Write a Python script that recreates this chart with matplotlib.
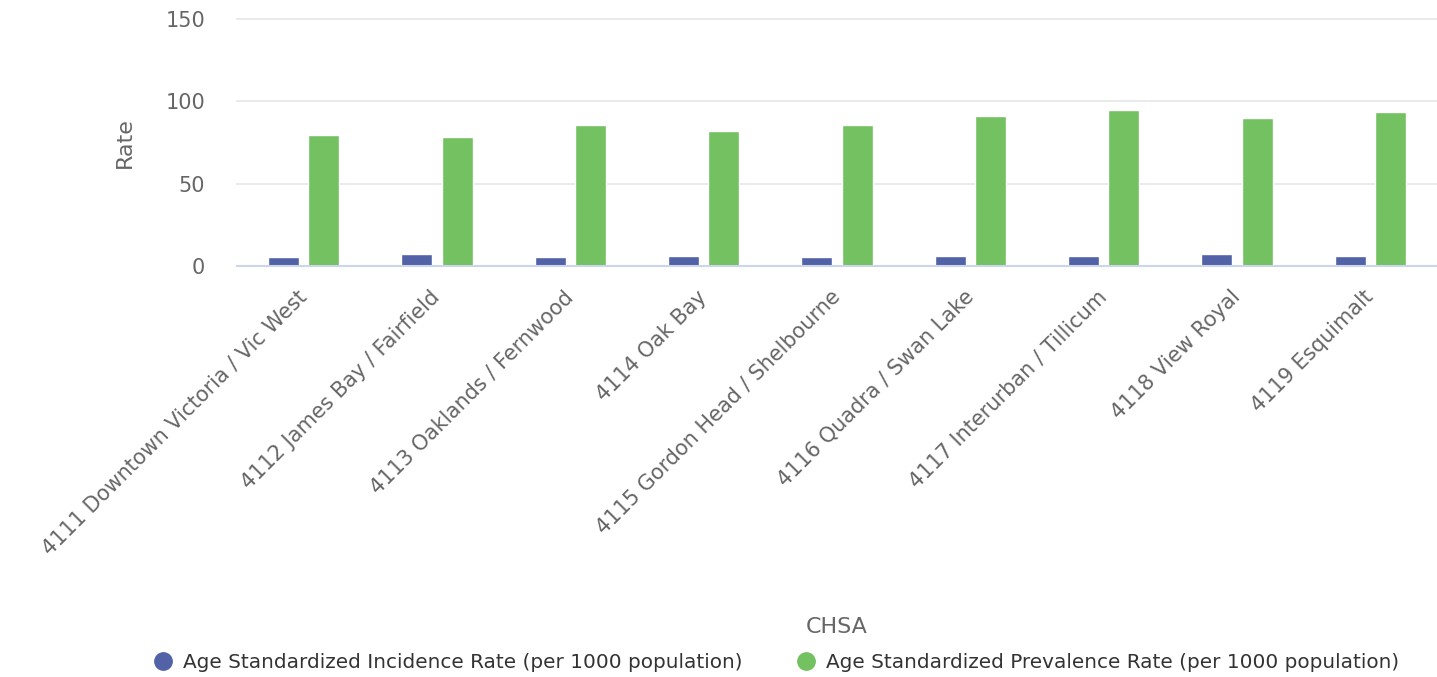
import numpy as np
import matplotlib.pyplot as plt
from matplotlib.lines import Line2D

categories = ["4111 Downtown Victoria / Vic West", "4112 James Bay / Fairfield",
              "4113 Oaklands / Fernwood", "4114 Oak Bay", "4115 Gordon Head / Shelbourne",
              "4116 Quadra / Swan Lake", "4117 Interurban / Tillicum", "4118 View Royal",
              "4119 Esquimalt"]
incidence = [5.3, 7.3, 5.3, 6.3, 5.3, 6.3, 6.3, 7.3, 6.3]
prevalence = [79.5, 78.5, 85.5, 82.0, 85.5, 91.0, 94.5, 90.0, 93.3]
series_names = ["Age Standardized Incidence Rate (per 1000 population)",
                "Age Standardized Prevalence Rate (per 1000 population)"]
yticks = [0, 50, 100, 150]

blue = "#5262a7"
green = "#73c161"

plt.rcParams['font.family'] = ['DejaVu Sans']
fig = plt.figure(figsize=(14.37, 6.77), dpi=100)
ax = fig.add_axes([237/1437, 1-266/677, 1-237/1437, (266-19)/677])

x = np.arange(len(categories))
w = 0.232
ax.bar(x - 0.152, incidence, w, color=blue, edgecolor="white", linewidth=1, zorder=3)
ax.bar(x + 0.152, prevalence, w, color=green, edgecolor="white", linewidth=1, zorder=3)

ax.set_xlim(-0.5, len(categories) - 0.5)
ax.set_ylim(0, 150)
ax.set_yticks(yticks)
ax.grid(axis='y', color="#e6e6e6", linewidth=1.2, zorder=0)
for gl in ax.get_ygridlines():
    gl.set_clip_on(False)
for s in ['top', 'right', 'left']:
    ax.spines[s].set_visible(False)
ax.spines['bottom'].set_color("#ccd6eb")
ax.spines['bottom'].set_linewidth(1.5)
ax.spines['bottom'].set_zorder(4)

ax.set_xticks(x)
ax.set_xticklabels(categories, rotation=45, ha='right', va='center', rotation_mode='anchor')
ax.tick_params(axis='x', length=0, pad=20, labelsize=15, labelcolor="#666666")
ax.tick_params(axis='y', length=0, pad=23, labelsize=15, labelcolor="#666666")

ax.set_xlabel("CHSA", fontsize=16, color="#666666")
ax.xaxis.set_label_coords(0.5, -(617-266)/247)
ax.set_ylabel("Rate", fontsize=16, color="#666666")
ax.yaxis.set_label_coords(-(237-135)/1200, 0.5)

handles = [Line2D([], [], marker='o', linestyle='', markersize=12.5, color=blue),
           Line2D([], [], marker='o', linestyle='', markersize=12.5, color=green)]
leg = fig.legend(handles, series_names, loc='center', ncol=2, frameon=False,
                 bbox_to_anchor=(775/1437, 1-662/677), fontsize=14.4,
                 handletextpad=0.4, handlelength=1.2, columnspacing=2.6, labelcolor="#333333")

fig.savefig("out.png", dpi=100)
